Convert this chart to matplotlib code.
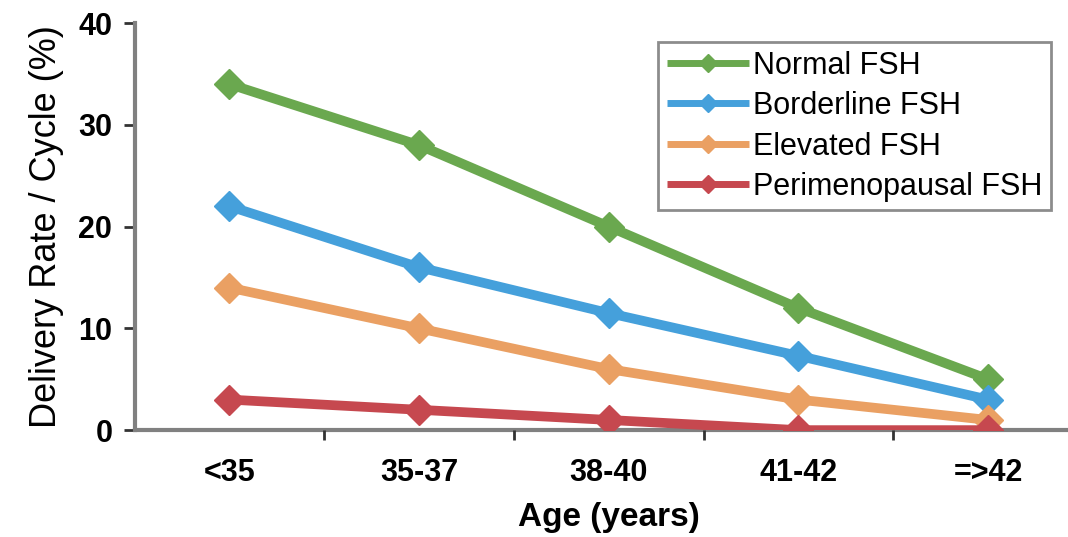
import numpy as np
import matplotlib.pyplot as plt

age_groups = ['<35', '35-37', '38-40', '41-42', '=>42']
series_names = ['Normal FSH', 'Borderline FSH', 'Elevated FSH', 'Perimenopausal FSH']
normal = [34, 28, 20, 12, 5]
borderline = [22, 16, 11.5, 7.3, 3]
elevated = [14, 10, 6, 3, 1]
perimenopausal = [3, 2, 1, 0, 0]
colors = ['#6aa84f', '#45a0db', '#eaa063', '#c6484f']

plt.rcParams['font.family'] = ['Liberation Sans', 'DejaVu Sans']

fig = plt.figure(figsize=(10.68, 5.37), dpi=100)
ax = fig.add_axes([0.126, 0.199, 0.888, 0.758])

pos = np.arange(len(age_groups))
for vals, name, c in zip([normal, borderline, elevated, perimenopausal], series_names, colors):
    ax.plot(pos, vals, color=c, lw=7, marker='D', markersize=15,
            markeredgecolor=c, label=name, solid_capstyle='butt')

ax.set_xlim(-0.5, len(age_groups) - 0.5)
ax.set_ylim(0, 40)
ax.set_yticks([0, 10, 20, 30, 40])
ax.set_xticks(pos)
ax.set_xticklabels(age_groups, fontsize=22, fontweight='bold')
ax.set_xticks(pos[:-1] + 0.5, minor=True)
for lab in ax.get_yticklabels():
    lab.set_fontsize(22)
    lab.set_fontweight('bold')

ax.tick_params(axis='x', which='major', length=0, pad=20)
ax.tick_params(axis='x', which='minor', length=7, width=2, color='#333333', direction='out')
ax.tick_params(axis='y', length=8, width=2, color='#333333', pad=8)

for side in ['top', 'right']:
    ax.spines[side].set_visible(False)
for side in ['left', 'bottom']:
    ax.spines[side].set_color('#808080')
    ax.spines[side].set_linewidth(3)
ax.spines['bottom'].set_zorder(1)

ax.set_ylabel('Delivery Rate / Cycle (%)', fontsize=26, labelpad=10)
ax.set_xlabel('Age (years)', fontsize=24, fontweight='bold', labelpad=10)

leg = ax.legend(loc='upper left', bbox_to_anchor=(0.552, 0.953), fontsize=22,
                frameon=True, fancybox=False, edgecolor='#707070',
                handlelength=2.7, handletextpad=0.12, labelspacing=0.34,
                borderpad=0.28, borderaxespad=0)
leg.get_frame().set_linewidth(2)
for h in leg.get_lines():
    h.set_linewidth(5)
    h.set_markersize(9)

fig.savefig('out.png', dpi=100)
